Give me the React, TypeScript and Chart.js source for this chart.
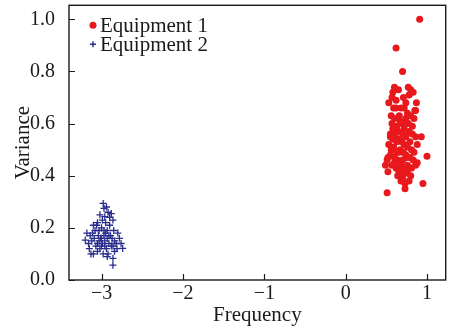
import React, { useEffect, useRef } from "react";
import { Chart, registerables } from "chart.js";

Chart.register(...registerables);

// Equipment 1 samples: [frequency, variance]
const equipment1: [number, number][] = [
  [0.91, 1.0], [0.62, 0.89], [0.7, 0.8],
  [0.6, 0.74], [0.65, 0.73], [0.58, 0.72], [0.8, 0.73], [0.83, 0.72], [0.78, 0.71], [0.77, 0.74],
  [0.53, 0.68], [0.62, 0.66], [0.68, 0.66], [0.72, 0.66], [0.85, 0.65],
  [0.56, 0.63], [0.6, 0.62], [0.66, 0.63], [0.74, 0.62], [0.8, 0.63], [0.84, 0.62],
  [0.57, 0.6], [0.63, 0.59], [0.69, 0.6], [0.72, 0.58], [0.77, 0.6], [0.82, 0.59],
  [0.55, 0.56], [0.61, 0.55], [0.65, 0.57], [0.7, 0.56], [0.74, 0.55], [0.78, 0.57], [0.86, 0.55], [0.58, 0.54],
  [0.53, 0.52], [0.59, 0.51], [0.63, 0.53], [0.67, 0.5], [0.72, 0.52], [0.76, 0.51], [0.81, 0.5], [0.88, 0.52], [0.56, 0.5],
  [0.55, 0.48], [0.6, 0.47], [0.66, 0.49], [0.7, 0.46], [0.74, 0.48], [0.79, 0.47], [0.83, 0.46], [0.64, 0.46], [0.52, 0.47],
  [0.57, 0.44], [0.62, 0.43], [0.68, 0.45], [0.72, 0.42], [0.76, 0.44], [0.81, 0.43], [0.86, 0.44], [0.49, 0.44], [0.52, 0.415], [0.65, 0.42],
  [0.64, 0.4], [0.7, 0.39], [0.74, 0.41], [0.78, 0.38], [0.68, 0.38], [0.73, 0.37], [0.8, 0.4], [0.95, 0.37], [1.0, 0.475], [0.51, 0.335], [0.73, 0.35],
  [0.62, 0.57], [0.66, 0.54], [0.69, 0.53], [0.71, 0.49], [0.75, 0.47], [0.68, 0.44], [0.63, 0.49], [0.73, 0.6], [0.67, 0.61],
  [0.76, 0.64], [0.62, 0.69], [0.71, 0.7], [0.59, 0.66], [0.79, 0.53], [0.84, 0.49], [0.6, 0.45], [0.66, 0.41], [0.76, 0.42],
  [0.7, 0.43], [0.58, 0.58], [0.82, 0.56], [0.74, 0.68], [0.57, 0.7], [0.87, 0.68], [0.86, 0.65], [0.93, 0.55], [0.88, 0.45],
  [0.55, 0.55], [0.51, 0.46],
];

// Equipment 2 samples: [frequency, variance]
const equipment2: [number, number][] = [
  [-2.98, 0.294], [-2.97, 0.275], [-2.88, 0.255], [-2.96, 0.243], [-2.86, 0.23], [-3.1, 0.21], [-3.18, 0.18],
  [-3.2, 0.153], [-2.74, 0.121], [-3.1, 0.1], [-2.86, 0.083], [-2.86, 0.057],
  [-3.02, 0.25], [-2.92, 0.26], [-3.05, 0.22], [-2.95, 0.22], [-2.9, 0.21], [-3.08, 0.19], [-3.0, 0.2], [-2.93, 0.19],
  [-2.85, 0.19], [-2.8, 0.18], [-3.14, 0.17], [-3.04, 0.17], [-2.97, 0.17], [-2.89, 0.17], [-2.78, 0.16], [-3.12, 0.15],
  [-3.03, 0.15], [-2.96, 0.15], [-2.91, 0.14], [-2.84, 0.15], [-3.07, 0.13], [-3.0, 0.13], [-2.94, 0.12], [-2.88, 0.13],
  [-2.81, 0.12], [-3.15, 0.12], [-3.05, 0.11], [-2.98, 0.1], [-2.92, 0.1], [-2.84, 0.11], [-3.01, 0.16], [-2.95, 0.18],
  [-3.09, 0.16], [-2.99, 0.14], [-2.87, 0.16], [-2.93, 0.16], [-3.16, 0.14], [-2.76, 0.14], [-3.06, 0.21], [-2.9, 0.24],
  [-3.02, 0.12], [-2.96, 0.13], [-3.11, 0.18], [-2.82, 0.14], [-3.03, 0.19], [-2.93, 0.09], [-3.13, 0.1], [-2.99, 0.23],
  [-2.94, 0.28], [-3.0, 0.16], [-2.97, 0.19], [-2.91, 0.17], [-2.86, 0.13], [-3.05, 0.14],
];

const xTickValues = [-3, -2, -1, 0, 1];
const yTickValues = [0, 0.2, 0.4, 0.6, 0.8, 1.0];
const seriesNames = ["Equipment 1", "Equipment 2"];

const RED = "rgb(232, 24, 28)";
const BLUE = "rgb(40, 44, 140)";
const INK = "#1a1a1a";
const SERIF = "'Liberation Serif', 'DejaVu Serif', serif";

// Box frame, inward tick marks and an in-plot legend
const framePlugin = {
  id: "frame",
  afterDraw(chart: any) {
    const { ctx, chartArea: a, scales } = chart;
    ctx.save();
    ctx.strokeStyle = INK;
    ctx.lineWidth = 1.4;
    ctx.strokeRect(a.left, a.top, a.right - a.left, a.bottom - a.top);
    ctx.lineWidth = 1.2;
    ctx.beginPath();
    for (const v of xTickValues) {
      const px = Math.round(scales.x.getPixelForValue(v)) + 0.5;
      ctx.moveTo(px, a.bottom);
      ctx.lineTo(px, a.bottom - 6);
    }
    for (const v of yTickValues) {
      const py = Math.round(scales.y.getPixelForValue(v)) + 0.5;
      ctx.moveTo(a.left, py);
      ctx.lineTo(a.left + 6, py);
    }
    ctx.stroke();

    // legend
    const lx = a.left + 24;
    const y1 = a.top + 20;
    const y2 = a.top + 39;
    ctx.fillStyle = RED;
    ctx.beginPath();
    ctx.arc(lx, y1, 3.5, 0, Math.PI * 2);
    ctx.fill();
    ctx.strokeStyle = BLUE;
    ctx.lineWidth = 1.4;
    ctx.beginPath();
    ctx.moveTo(lx - 3, y2);
    ctx.lineTo(lx + 3, y2);
    ctx.moveTo(lx, y2 - 3);
    ctx.lineTo(lx, y2 + 3);
    ctx.stroke();
    ctx.fillStyle = INK;
    ctx.font = `21px ${SERIF}`;
    ctx.textAlign = "left";
    ctx.textBaseline = "middle";
    ctx.fillText(seriesNames[0], lx + 7, y1 + 1);
    ctx.fillText(seriesNames[1], lx + 7, y2 + 1);
    ctx.restore();
  },
};

export default function App() {
  const canvasRef = useRef<HTMLCanvasElement | null>(null);

  useEffect(() => {
    if (!canvasRef.current) return;
    const chart = new Chart(canvasRef.current, {
      type: "scatter",
      data: {
        datasets: [
          {
            label: seriesNames[0],
            data: equipment1.map(([x, y]) => ({ x, y })),
            pointStyle: "circle",
            pointRadius: 3.5,
            backgroundColor: RED,
            borderColor: RED,
            borderWidth: 0,
          },
          {
            label: seriesNames[1],
            data: equipment2.map(([x, y]) => ({ x, y })),
            pointStyle: "cross",
            pointRadius: 3.5,
            backgroundColor: BLUE,
            borderColor: BLUE,
            borderWidth: 1.3,
          },
        ],
      },
      options: {
        animation: false,
        responsive: false,
        devicePixelRatio: 1,
        layout: { padding: { top: 5, right: 3, left: 0, bottom: 0 } },
        plugins: { legend: { display: false }, tooltip: { enabled: false } },
        scales: {
          x: {
            type: "linear",
            min: -3.4,
            max: 1.23,
            grid: { display: false },
            border: { display: false },
            afterBuildTicks: (s: any) => {
              s.ticks = xTickValues.map((v) => ({ value: v }));
            },
            afterFit: (s: any) => {
              s.height = 47;
              s.paddingLeft = 0;
              s.paddingRight = 0;
            },
            ticks: {
              padding: -6,
              color: INK,
              font: { family: SERIF, size: 20 },
              callback: (v: any) => String(v).replace("-", "\u2212"),
            },
            title: {
              display: true,
              text: "Frequency",
              color: INK,
              font: { family: SERIF, size: 21, lineHeight: 1 },
              padding: { top: 0, bottom: 1.5 },
            },
          },
          y: {
            type: "linear",
            min: 0,
            max: 1.054,
            grid: { display: false },
            border: { display: false },
            afterBuildTicks: (s: any) => {
              s.ticks = yTickValues.map((v) => ({ value: v }));
            },
            afterFit: (s: any) => {
              s.width = 69;
              s.paddingTop = 0;
              s.paddingBottom = 0;
            },
            ticks: {
              padding: 6,
              color: INK,
              font: { family: SERIF, size: 20 },
              callback: (v: any) => Number(v).toFixed(1),
            },
            title: {
              display: true,
              text: "Variance",
              color: INK,
              font: { family: SERIF, size: 21, lineHeight: 1 },
              padding: { top: 12.5, bottom: 0 },
            },
          },
        },
      },
      plugins: [framePlugin],
    });
    return () => chart.destroy();
  }, []);

  return (
    <div style={{ position: "absolute", left: 0, top: 0, width: 451, height: 327, background: "#fff" }}>
      <canvas ref={canvasRef} width={451} height={327} />
    </div>
  );
}
